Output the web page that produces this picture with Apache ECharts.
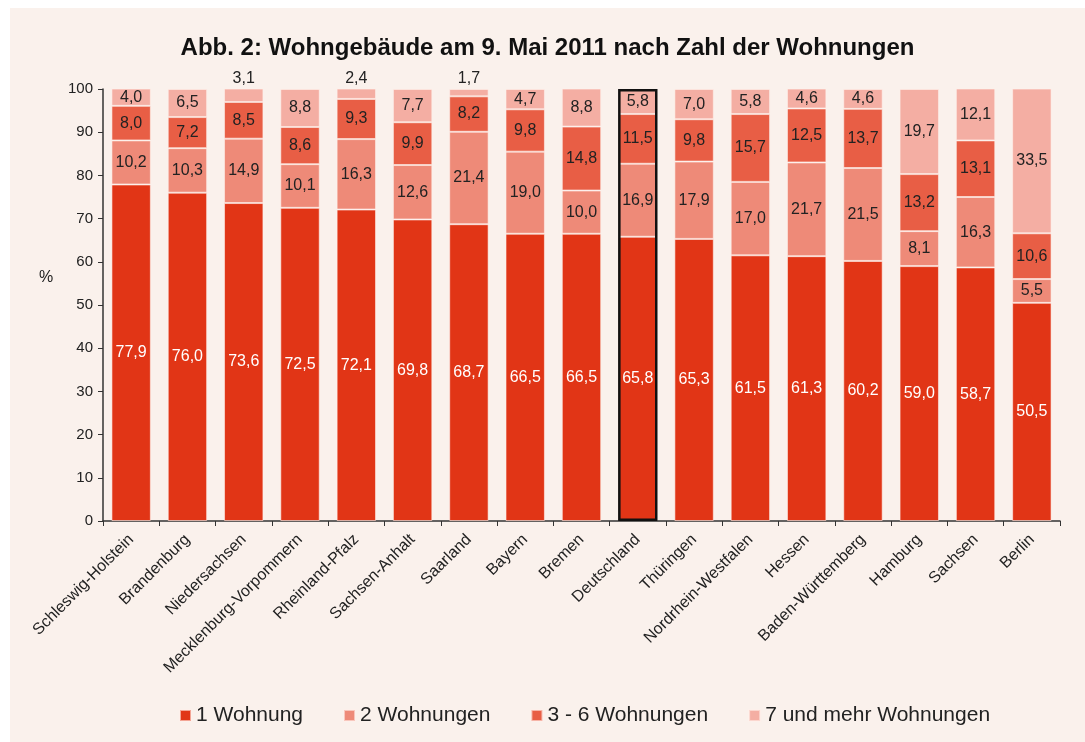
<!DOCTYPE html>
<html lang="de">

<head>
  <meta charset="UTF-8" />
  <title>Wohngebäude nach Zahl der Wohnungen</title>
  <script src="https://cdn.jsdelivr.net/npm/echarts@6/dist/echarts.min.js"></script>
  <style>
    html, body { margin: 0; padding: 0; background: #ffffff; }
    #main { position: absolute; left: 10px; top: 8px; width: 1075px; height: 734px; background: #faf1ec; }
  </style>
</head>

<body>
  <div id="main"></div>
  <script type="text/javascript">
    // Bundesländer (plus Deutschland)
    var laender = ['Schleswig-Holstein', 'Brandenburg', 'Niedersachsen', 'Mecklenburg-Vorpommern',
      'Rheinland-Pfalz', 'Sachsen-Anhalt', 'Saarland', 'Bayern', 'Bremen', 'Deutschland',
      'Thüringen', 'Nordrhein-Westfalen', 'Hessen', 'Baden-Württemberg', 'Hamburg', 'Sachsen', 'Berlin']

    var seriesNames = ['1 Wohnung', '2 Wohnungen', '3 - 6 Wohnungen', '7 und mehr Wohnungen']

    // Anteile in %
    var w1 = [77.9, 76.0, 73.6, 72.5, 72.1, 69.8, 68.7, 66.5, 66.5, 65.8, 65.3, 61.5, 61.3, 60.2, 59.0, 58.7, 50.5]
    var w2 = [10.2, 10.3, 14.9, 10.1, 16.3, 12.6, 21.4, 19.0, 10.0, 16.9, 17.9, 17.0, 21.7, 21.5, 8.1, 16.3, 5.5]
    var w3_6 = [8.0, 7.2, 8.5, 8.6, 9.3, 9.9, 8.2, 9.8, 14.8, 11.5, 9.8, 15.7, 12.5, 13.7, 13.2, 13.1, 10.6]
    var w7plus = [4.0, 6.5, 3.1, 8.8, 2.4, 7.7, 1.7, 4.7, 8.8, 5.8, 7.0, 5.8, 4.6, 4.6, 19.7, 12.1, 33.5]

    var yTicks = [0, 10, 20, 30, 40, 50, 60, 70, 80, 90, 100]

    var colors = ['#e13516', '#ee8a78', '#e85e45', '#f4aea3']
    var font = 'Liberation Sans, Arial, sans-serif'

    function fmt(v) {
      return v.toFixed(1).replace('.', ',')
    }

    function makeSeries(name, values, idx) {
      return {
        name: name,
        type: 'bar',
        stack: 'gesamt',
        barCategoryGap: '30%',
        itemStyle: { color: colors[idx], borderColor: 'rgba(255,240,235,0.6)', borderWidth: 1 },
        label: {
          show: true,
          position: 'inside',
          color: idx === 0 ? '#ffffff' : '#222222',
          fontFamily: font,
          fontSize: 16,
          formatter: function (p) { return fmt(p.value) }
        },
        data: values.map(function (v) {
          // kleine Werte über dem Balken beschriften
          if (idx === 3 && v < 3.5) {
            return { value: v, label: { position: 'top', distance: 2 } }
          }
          return v
        })
      }
    }

    var series = seriesNames.map(function (n, i) {
      return makeSeries(n, [w1, w2, w3_6, w7plus][i], i)
    })

    // Rahmen um Deutschland
    series.push({
      name: 'rahmen',
      type: 'bar',
      barGap: '-100%',
      silent: true,
      z: 5,
      itemStyle: { color: 'rgba(0,0,0,0)', borderColor: '#111111', borderWidth: 2.5 },
      data: laender.map(function (l) { return l === 'Deutschland' ? 100 : null })
    })

    var myChart = echarts.init(document.getElementById('main'))

    var option = {
      animation: false,
      textStyle: { fontFamily: font },
      title: {
        text: 'Abb. 2: Wohngebäude am 9. Mai 2011 nach Zahl der Wohnungen',
        left: 'center',
        top: 23,
        textStyle: { fontFamily: font, fontSize: 24, fontWeight: 'bold', color: '#111111' }
      },
      graphic: [{
        type: 'text',
        left: 29,
        top: 262,
        style: { text: '%', fontFamily: font, fontSize: 16, fill: '#222222' }
      }],
      legend: {
        data: seriesNames,
        bottom: 11,
        left: 164,
        icon: 'rect',
        itemWidth: 11,
        itemHeight: 11,
        itemGap: 40,
        textStyle: { fontFamily: font, fontSize: 21, color: '#222222' }
      },
      grid: { left: 93, right: 25, top: 81, bottom: 221 },
      xAxis: {
        type: 'category',
        data: laender,
        axisLine: { lineStyle: { color: '#333333', width: 1.5 } },
        axisTick: { show: true, alignWithLabel: false, length: 5, lineStyle: { color: '#333333' } },
        axisLabel: { rotate: 45, interval: 0, fontSize: 16, color: '#222222', fontFamily: font, margin: 16 }
      },
      yAxis: {
        type: 'value',
        min: 0,
        max: 100,
        interval: 10,
        axisLine: { show: true, lineStyle: { color: '#333333', width: 1.5 } },
        axisTick: { show: true, inside: false, length: 5, lineStyle: { color: '#333333' } },
        splitLine: { show: false },
        axisLabel: {
          fontSize: 15, color: '#222222', fontFamily: font, margin: 10,
          formatter: function (v) { return yTicks.indexOf(v) >= 0 ? String(v) : '' }
        }
      },
      series: series
    }

    myChart.setOption(option)
  </script>
</body>

</html>
